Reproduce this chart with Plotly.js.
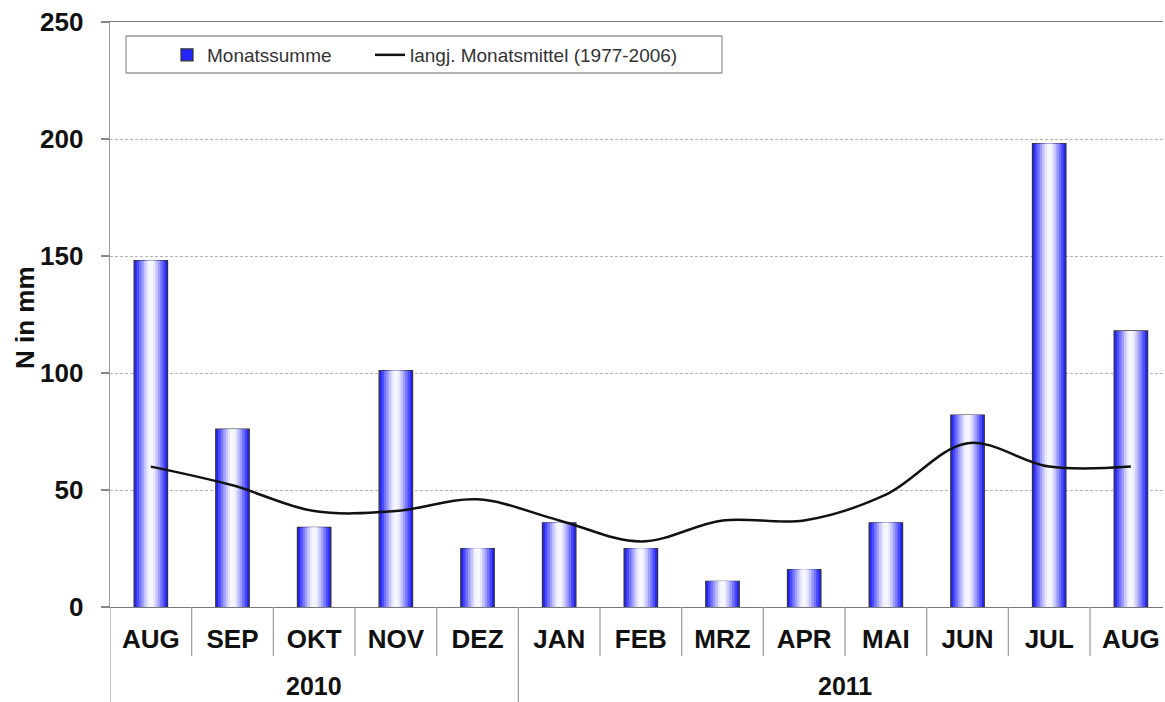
<!DOCTYPE html>
<html>
<head>
<meta charset="utf-8">
<script src="https://cdn.plot.ly/plotly-3.0.1.min.js"></script>
<style>html,body{margin:0;padding:0;background:#fff}#chart{width:1165px;height:702px}</style>
</head>
<body>
<div id="chart"></div>
<script>
// ---- data ----
const months = ['AUG','SEP','OKT','NOV','DEZ','JAN','FEB','MRZ','APR','MAI','JUN','JUL','AUG'];
const years = ['2010','2010','2010','2010','2010','2011','2011','2011','2011','2011','2011','2011','2011'];
const monatssumme = [148, 76, 34, 101, 25, 36, 25, 11, 16, 36, 82, 198, 118];
const monatsmittel = [60, 52, 41, 41, 46, 37, 28, 37, 37, 48, 70, 60, 60];
const seriesNames = ['Monatssumme', 'langj. Monatsmittel (1977-2006)'];
const yTitle = 'N in mm';

// ---- style ----
const FONT = 'Liberation Sans, Arial, sans-serif';
const PW = 1053, PH = 585;
const idx = months.map((m, i) => i);
const layerWidths = [0.41, 0.35, 0.29, 0.23, 0.17, 0.11, 0.06];
const layerColors = ['#2424ff', '#4c4cff', '#7474ff', '#9e9eff', '#c6c6ff', '#e6e6ff', '#f6f6ff'];

const traces = [];
layerWidths.forEach((w, k) => {
  traces.push({
    type: 'bar', x: idx, y: monatssumme, width: w,
    name: seriesNames[0], showlegend: k === 0, legendgroup: 'bars', legend: 'legend',
    hoverinfo: k === 0 ? 'y' : 'skip',
    marker: { color: layerColors[k], line: { color: k === 0 ? '#333' : 'rgba(0,0,0,0)', width: k === 0 ? 1.2 : 0 } }
  });
});
traces.push({
  type: 'scatter', mode: 'lines', x: idx, y: monatsmittel,
  name: seriesNames[1], legend: 'legend2',
  line: { color: '#111', width: 2.5, shape: 'spline', smoothing: 1 }
});

// separators and year labels computed from categories
const shapes = [];
const annotations = [];
for (let i = 0; i <= months.length; i++) {
  const isYearBoundary = i === 0 || i === months.length || years[i] !== years[i - 1];
  shapes.push({
    type: 'line', xref: 'x', yref: 'paper', x0: i - 0.5, x1: i - 0.5,
    y0: 0, y1: isYearBoundary ? -96 / PH : -49 / PH,
    line: { color: '#a0a0a0', width: 1.3 }
  });
}
const uniqueYears = [...new Set(years)];
uniqueYears.forEach(yr => {
  const ids = idx.filter(i => years[i] === yr);
  const mid = (ids[0] + ids[ids.length - 1]) / 2;
  annotations.push({
    xref: 'x', yref: 'paper', x: mid, y: -79 / PH, yanchor: 'middle', xanchor: 'center',
    text: yr, showarrow: false, font: { family: FONT, size: 25, color: '#111', weight: 'bold' }
  });
});
annotations.push({
  xref: 'paper', yref: 'paper', x: -85 / PW, y: 0.494, xanchor: 'center', yanchor: 'middle',
  text: yTitle, textangle: -90, showarrow: false,
  font: { family: FONT, size: 26, color: '#111', weight: 'bold' }
});
// legend frame
shapes.push({
  type: 'rect', xref: 'paper', yref: 'paper',
  x0: 16 / PW, x1: 612 / PW, y0: (PH - 51) / PH, y1: (PH - 14) / PH,
  line: { color: '#999', width: 1.3 }, fillcolor: 'rgba(0,0,0,0)', layer: 'above'
});

const legendBase = {
  orientation: 'h', xanchor: 'left', yanchor: 'middle', y: (PH - 33) / PH,
  bgcolor: 'rgba(0,0,0,0)', borderwidth: 0,
  font: { family: FONT, size: 19, color: '#333' }
};

const layout = {
  width: 1165, height: 702,
  margin: { l: 110, r: 2, t: 22, b: 95 },
  paper_bgcolor: '#fff', plot_bgcolor: '#fff',
  barmode: 'overlay',
  font: { family: FONT, color: '#111' },
  showlegend: true,
  legend: Object.assign({}, legendBase, { x: 57 / PW }),
  legend2: Object.assign({}, legendBase, { x: 260 / PW }),
  xaxis: {
    range: [-0.5, -0.5 + PW / 81.67],
    tickvals: idx, ticktext: months, ticks: '',
    tickfont: { family: FONT, size: 26, color: '#111', weight: 'bold' },
    ticklabelstandoff: 8,
    showline: true, linecolor: '#777', linewidth: 1.3, mirror: true,
    showgrid: false, zeroline: false, fixedrange: true
  },
  yaxis: {
    range: [0, 250], dtick: 50, ticks: 'outside', ticklen: 8, tickcolor: '#888', tickwidth: 1.3,
    tickfont: { family: FONT, size: 26, color: '#111', weight: 'bold' },
    ticklabelstandoff: 12,
    showline: true, linecolor: '#999', linewidth: 1.3,
    showgrid: true, gridcolor: '#b4b4b4', gridwidth: 1, griddash: '3px,2px',
    zeroline: false, fixedrange: true
  },
  shapes: shapes,
  annotations: annotations
};

Plotly.newPlot('chart', traces, layout, { displayModeBar: false, staticPlot: true });
</script>
</body>
</html>
